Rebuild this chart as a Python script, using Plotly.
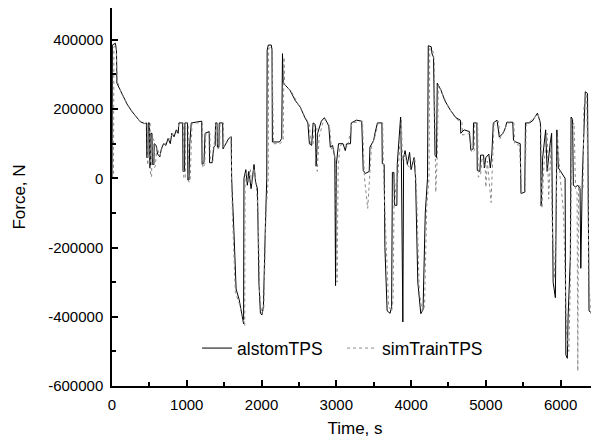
import plotly.graph_objs as go

# alstomTPS (solid) - time in s, force in N
alstom_t = [0, 5, 45, 60, 65, 120, 200, 260, 320, 380, 440, 460, 465, 480, 485, 500, 505, 515, 520, 535,
            540, 560, 565, 590, 610, 640, 660, 690, 720, 750, 780, 800, 830, 860, 885, 895, 945, 950, 970, 975,
            1010, 1015, 1030, 1040, 1060, 1200, 1205, 1230, 1245, 1300, 1305, 1340, 1360, 1380, 1385, 1405, 1410, 1430, 1435, 1480,
            1485, 1520, 1560, 1595, 1600, 1630, 1660, 1700, 1730, 1760, 1765, 1790, 1810, 1830, 1860, 1880, 1900, 1920, 1945, 1965,
            1985, 2005, 2025, 2050, 2070, 2075, 2090, 2130, 2140, 2145, 2240, 2270, 2280, 2290, 2380, 2450, 2520, 2580, 2620, 2640,
            2670, 2690, 2720, 2730, 2750, 2800, 2840, 2880, 2900, 2920, 2950, 2980, 2990, 3000, 3030, 3090, 3120, 3140, 3190, 3200,
            3270, 3340, 3360, 3390, 3440, 3450, 3500, 3520, 3550, 3610, 3615, 3640, 3650, 3680, 3720, 3740, 3750, 3770, 3780, 3810,
            3815, 3860, 3870, 3890, 3900, 3920, 3950, 3980, 4000, 4040, 4060, 4090, 4130, 4160, 4190, 4220, 4230, 4270, 4280, 4300,
            4320, 4340, 4350, 4400, 4450, 4525, 4600, 4660, 4665, 4710, 4780, 4800, 4830, 4835, 4880, 4885, 4920, 4930, 4970, 4980,
            5000, 5040, 5060, 5080, 5100, 5150, 5180, 5230, 5260, 5280, 5360, 5370, 5400, 5460, 5470, 5520, 5530, 5580, 5620, 5690,
            5730, 5740, 5760, 5800, 5820, 5860, 5880, 5900, 5930, 5950, 5970, 6000, 6060, 6070, 6090, 6100, 6130, 6140, 6160, 6170,
            6200, 6230, 6260, 6270, 6290, 6330, 6360, 6380, 6420, 6470]
alstom_f = [0, 385000, 390000, 370000, 275000, 250000, 215000, 195000, 180000, 163000, 158000, 160000, 60000, 60000, 160000, 160000, 30000, 30000, 130000, 130000,
            40000, 40000, 100000, 95000, 70000, 62000, 85000, 100000, 95000, 115000, 100000, 130000, 120000, 140000, 130000, 160000, 160000, 20000, 20000, 160000,
            160000, -5000, -5000, 100000, 160000, 165000, 40000, 45000, 130000, 135000, 45000, 45000, 90000, 95000, 160000, 160000, 90000, 90000, 160000, 160000,
            85000, 100000, 115000, 120000, 0, -150000, -320000, -350000, -385000, -420000, 0, 25000, -20000, 20000, -30000, 15000, 40000, -10000, -30000, -300000,
            -390000, -395000, -370000, -150000, 0, 370000, 385000, 385000, 370000, 105000, 105000, 115000, 360000, 275000, 255000, 225000, 205000, 175000, 160000, 100000,
            95000, 160000, 155000, 35000, 130000, 165000, 175000, 160000, 150000, 90000, 95000, 60000, -310000, 40000, 100000, 100000, 80000, 100000, 100000, 160000,
            168000, 165000, 23000, 14000, 20000, 90000, 110000, 133000, 160000, 160000, 43000, 40000, -200000, -383000, -390000, -370000, 17000, 17000, -78000, -78000,
            40000, 177000, 60000, -415000, 60000, 80000, 40000, 75000, 25000, 60000, 0, -300000, -391000, -380000, -100000, 0, 383000, 380000, 360000, 350000,
            67000, 60000, 275000, 255000, 225000, 197000, 175000, 168000, 130000, 140000, 135000, 81000, 85000, 160000, 160000, 23000, 20000, 67000, 67000, 30000,
            60000, 70000, 30000, 70000, 160000, 168000, 119000, 130000, 145000, 162000, 162000, 110000, 105000, 100000, -44000, -40000, 160000, 160000, 165000, 188000,
            160000, -80000, 60000, 140000, 20000, 100000, 130000, -300000, -345000, 140000, 30000, 20000, 0, -510000, -520000, -400000, -230000, 177000, 170000, -20000,
            -25000, -20000, -30000, -260000, 0, 250000, 245000, -383000, -391000, -395000]

# simTrainTPS (dotted)
sim_t = [0, 20, 25, 55, 70, 130, 210, 280, 350, 430, 470, 475, 495, 500, 510, 515, 530, 535, 560, 565,
         580, 600, 640, 680, 740, 800, 870, 900, 955, 960, 980, 985, 1020, 1025, 1045, 1070, 1210, 1215, 1240, 1255,
         1310, 1315, 1350, 1390, 1415, 1420, 1440, 1445, 1490, 1495, 1560, 1590, 1610, 1650, 1700, 1740, 1775, 1780, 1800, 1820,
         1850, 1870, 1900, 1930, 1955, 1975, 2000, 2030, 2060, 2090, 2095, 2140, 2160, 2250, 2290, 2300, 2310, 2400, 2500, 2600,
         2640, 2660, 2690, 2710, 2740, 2745, 2770, 2820, 2860, 2910, 2935, 2960, 2990, 3010, 3025, 3050, 3110, 3150, 3210, 3350,
         3375, 3420, 3445, 3470, 3530, 3560, 3620, 3630, 3660, 3700, 3740, 3760, 3775, 3800, 3830, 3870, 3885, 3910, 3960, 4010,
         4050, 4075, 4110, 4150, 4180, 4210, 4240, 4250, 4290, 4310, 4330, 4350, 4365, 4420, 4500, 4600, 4680, 4690, 4790, 4810,
         4845, 4850, 4890, 4900, 4930, 4950, 4990, 5000, 5020, 5070, 5090, 5110, 5170, 5190, 5270, 5290, 5375, 5385, 5450, 5480,
         5525, 5540, 5700, 5735, 5750, 5780, 5820, 5840, 5870, 5890, 5920, 5960, 5990, 6040, 6080, 6110, 6130, 6150, 6180, 6200,
         6220, 6230, 6240, 6300, 6310, 6340, 6350, 6360, 6380, 6400, 6500]
sim_f = [0, 0, 380000, 385000, 280000, 245000, 212000, 190000, 170000, 158000, 160000, 40000, 40000, 160000, 160000, 5000, 5000, 120000, 110000, 30000,
         35000, 90000, 65000, 95000, 105000, 125000, 135000, 160000, 160000, 0, 0, 160000, 160000, -10000, -10000, 160000, 160000, 30000, 40000, 130000,
         130000, 50000, 50000, 160000, 160000, 85000, 90000, 160000, 160000, 90000, 110000, 120000, -100000, -330000, -360000, -400000, -425000, 10000, 20000, -15000,
         25000, -20000, 30000, -20000, -100000, -330000, -390000, -380000, -100000, 0, 375000, 380000, 100000, 100000, 110000, 350000, 270000, 250000, 210000, 170000,
         155000, 95000, 100000, 155000, 150000, 20000, 120000, 160000, 170000, 150000, 85000, 90000, 50000, -300000, 30000, 95000, 100000, 90000, 160000, 165000,
         5000, -87000, 10000, 90000, 130000, 160000, 160000, 30000, -150000, -370000, -385000, -350000, 10000, -60000, 30000, 170000, 50000, 70000, 35000, 30000,
         60000, -50000, -330000, -385000, -370000, -80000, 0, 375000, 370000, 340000, -40000, 60000, 270000, 245000, 205000, 172000, 162000, 125000, 130000, 75000,
         80000, 160000, 160000, 3000, 10000, 60000, 40000, -26000, 50000, -70000, 60000, 160000, 165000, 115000, 150000, 160000, 160000, 100000, 95000, -44000,
         -40000, 155000, 185000, 150000, -87000, 50000, 130000, -60000, 90000, -150000, -290000, 120000, 10000, -100000, -450000, -500000, -300000, 150000, 160000, -30000,
         -40000, -557000, -20000, -30000, 200000, 245000, 240000, 60000, -300000, -390000, -395000]

# axis ticks
y_ticks = [-600000, -400000, -200000, 0, 200000, 400000]
y_tick_labels = ["-600000", "-400000", "-200000", "0", "200000", "400000"]
x_ticks = [0, 1000, 2000, 3000, 4000, 5000, 6000]

font = "Liberation Sans, Arial, sans-serif"

fig = go.Figure()
fig.add_trace(go.Scatter(x=alstom_t, y=alstom_f, mode="lines", name="alstomTPS",
                         line=dict(color="black", width=1)))
fig.add_trace(go.Scatter(x=sim_t, y=sim_f, mode="lines", name="simTrainTPS",
                         line=dict(color="#8a8a8a", width=1, dash="dot")))

axis_style = dict(showgrid=False, zeroline=False, showline=True, linecolor="black", linewidth=1.5,
                  mirror=True, ticks="inside", ticklen=6, tickwidth=1.5, tickcolor="black",
                  tickfont=dict(family=font, size=15, color="black"), ticklabelstandoff=4,
                  automargin=False)

# page body has an 8px default margin, so the figure is sized to fit inside the window
fig.update_layout(
    width=591, height=434,
    margin=dict(l=104, r=1, t=0, b=56),
    paper_bgcolor="white", plot_bgcolor="white",
    font=dict(family=font, color="black"),
    xaxis=dict(range=[0, 6500], tickvals=x_ticks,
               minor=dict(ticks="inside", ticklen=4, tickcolor="black", dtick=500, tick0=0),
               title=dict(text="Time, s", font=dict(size=17), standoff=10), **axis_style),
    yaxis=dict(range=[-600000, 492000], tickvals=y_ticks, ticktext=y_tick_labels,
               minor=dict(ticks="inside", ticklen=4, tickcolor="black", dtick=100000, tick0=0),
               title=dict(text="Force, N", font=dict(size=17), standoff=18), **axis_style),
    legend=dict(orientation="h", x=0.175, xanchor="left", y=0.1, yanchor="middle",
                font=dict(family=font, size=17.5, color="black"), bgcolor="rgba(0,0,0,0)",
                entrywidth=100),
    showlegend=True,
)

fig.write_html("out.html")
